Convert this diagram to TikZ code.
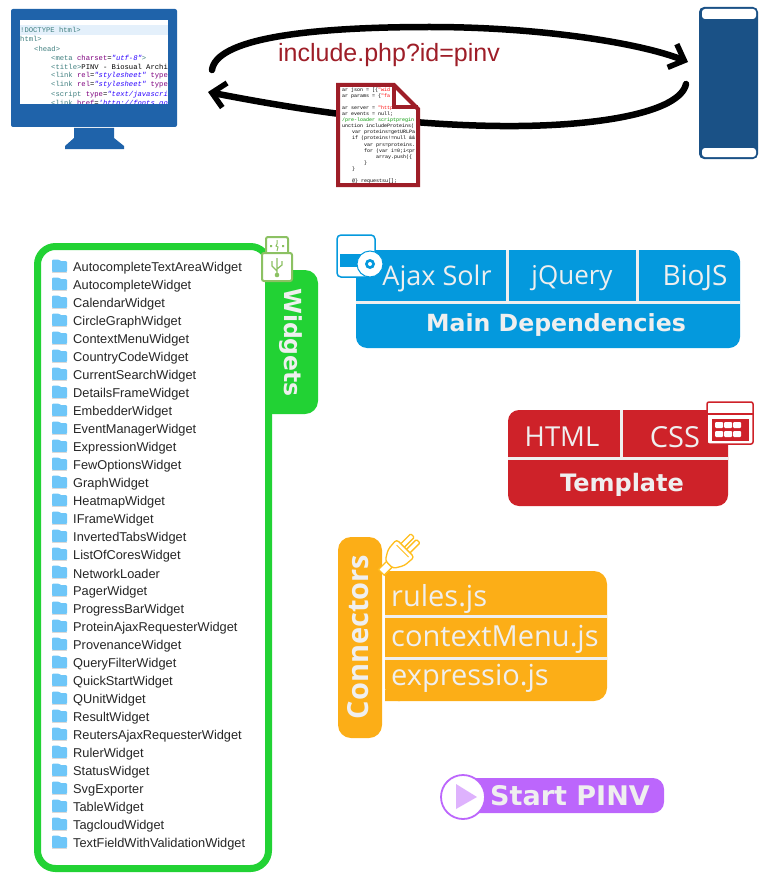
\documentclass[tikz,border=0pt]{standalone}
\usepackage{fontspec}
\setmainfont{Liberation Sans}
\newfontfamily\thinfont{Open Sans}
\newfontfamily\boldfont{DejaVu Sans}
\newfontfamily\codefont{Liberation Mono}
\usetikzlibrary{arrows.meta}
\definecolor{cblue}{HTML}{0499DD}
\definecolor{cred}{HTML}{CE2229}
\definecolor{corange}{HTML}{FCAE17}
\definecolor{cgreen}{HTML}{22D234}
\definecolor{cpurple}{HTML}{BC66FC}
\definecolor{cmon}{HTML}{1F63AA}
\definecolor{cphone}{HTML}{1A5186}
\definecolor{cdoc}{HTML}{9E1E28}
\definecolor{cwhite}{HTML}{EFEFEF}
\definecolor{cfolder}{HTML}{6EC6F8}
\definecolor{cusb}{HTML}{8CC163}
\definecolor{cteal}{HTML}{3F7F7F}
\definecolor{cpurp}{HTML}{7F007F}
\definecolor{cstr}{HTML}{2A00FF}
\definecolor{chigh}{HTML}{E4F0FB}
\definecolor{cplug}{HTML}{FFBE1E}
\tikzset{
  x=1pt,y=-1pt,
  flow/.style={line width=6.5pt,line cap=round,-{Straight Barb[length=13pt,width=25pt,line width=5.5pt]}},
  label/.style={inner sep=0pt,text=cwhite,font=\thinfont\fontsize{#1}{#1}\selectfont},
  blabel/.style={inner sep=0pt,text=cwhite,font=\boldfont\bfseries\fontsize{#1}{#1}\selectfont},
  widget/.style={inner sep=0pt,anchor=west,font=\fontsize{12.8}{13}\selectfont,text=black!85},
  code/.style={inner sep=0pt,anchor=west,font=\codefont\fontsize{7.2}{8}\selectfont},
  dcode/.style={inner sep=0pt,anchor=west,font=\codefont\fontsize{5}{6}\selectfont},
  divider/.style={cwhite,line width=3pt},
}
\begin{document}
\begin{tikzpicture}
\useasboundingbox (0,0) rectangle (768,880);
% monitor
\fill[cmon,rounded corners=2pt] (11,9) rectangle (177,127);
\fill[cmon] (74,128) -- (114,128) -- (114,138) -- (124,146) -- (124,149) -- (65,149) -- (65,146) -- (74,138) -- cycle;
\fill[white] (20,20) rectangle (168,104);
\begin{scope}
\clip (20,20) rectangle (168,104);
\fill[chigh] (20,25) rectangle (168,35);
\node[code,text=cteal] (m1) at (20,30) {!DOCTYPE html>};
\node[code,text=cteal] (m2) at (20,39) {html>};
\node[code,text=cteal] (m3) at (34,48.5) {<head>};
\node[code] (m4) at (51,57.5) {\textcolor{cteal}{<meta} \textcolor{cpurp}{charset}=\textcolor{cstr}{\itshape "utf-8"}\textcolor{cteal}{>}};
\node[code] (m5) at (51,66.5) {\textcolor{cteal}{<title>}PINV - Biosual Archi};
\node[code] (m6) at (51,76) {\textcolor{cteal}{<link} \textcolor{cpurp}{rel}=\textcolor{cstr}{\itshape "stylesheet"} \textcolor{cpurp}{type}};
\node[code] (m7) at (51,85) {\textcolor{cteal}{<link} \textcolor{cpurp}{rel}=\textcolor{cstr}{\itshape "stylesheet"} \textcolor{cpurp}{type}};
\node[code] (m8) at (51,94.5) {\textcolor{cteal}{<script} \textcolor{cpurp}{type}=\textcolor{cstr}{\itshape "text/javascri}};
\node[code] (m9) at (51,103.5) {\textcolor{cteal}{<link} \textcolor{cpurp}{href}=\textcolor{cstr}{\itshape 'http://fonts.go}};
\end{scope}
% phone
\fill[cphone,rounded corners=5pt] (699,7) rectangle (758,159);
\fill[white,rounded corners=3pt] (702,9) -- (756,9) -- (756,19) -- (702,19) -- cycle;
\fill[white,rounded corners=3pt] (702,148) -- (756,148) -- (756,157) -- (702,157) -- cycle;
\coordinate (pa) at (688,62);
\coordinate (pb) at (686,84);
\coordinate (ma) at (212,70);
\coordinate (mb) at (208,92);
% flows
\draw[flow] (ma) .. controls (216,40) and (300,27) .. (430,27) .. controls (540,27) and (640,43) .. (pa);
\draw[flow] (pb) .. controls (680,112) and (600,127) .. (500,126) .. controls (400,125) and (300,110) .. (mb);
\node[inner sep=0pt,text=cdoc,font=\fontsize{25}{25}\selectfont] (inc) at (389,55) {include.php?id=pinv};
% document
\fill[white] (338,85) -- (394,85) -- (418,109) -- (418,185) -- (338,185) -- cycle;
\begin{scope}
\clip (342,87) rectangle (416,182);
\node[dcode,text=black] (d1) at (342,90) {ar json = [\{\textcolor{red}{"wid}};
\node[dcode,text=black] (d2) at (342,96) {ar params = \{\textcolor{red}{"fa}};
\node[dcode,text=black] (d3) at (342,108.5) {ar server = \textcolor{red}{"http://}};
\node[dcode,text=black] (d4) at (342,114.5) {ar events = null;};
\node[dcode,text=green!60!black] (d5) at (342,120.5) {/pre-loader scriptpregin};
\node[dcode,text=black] (d6) at (342,126.5) {unction includeProteins(};
\node[dcode,text=black] (d7) at (352,132.5) {var proteins=getURLPa};
\node[dcode,text=black] (d8) at (352,138.5) {if (proteins!=null \&\&};
\node[dcode,text=black] (d9) at (364,145) {var prs=proteins.};
\node[dcode,text=black] (d10) at (364,151) {for (var i=0;i<pr};
\node[dcode,text=black] (d11) at (376,157) {array.push(\{};
\node[dcode,text=black] (d12) at (364,163) {\}};
\node[dcode,text=black] (d13) at (352,169) {\}};
\node[dcode,text=black] (d14) at (352,181) {@\} requestsu[];};
\end{scope}
\draw[cdoc,line width=4pt,miter limit=2] (338,85) -- (394,85) -- (418,109) -- (418,185) -- (338,185) -- cycle;
\draw[cdoc,line width=4pt] (394,85) -- (394,107) -- (418,107);
% widgets panel
\fill[cgreen,rounded corners=13pt] (250,270) -- (318,270) -- (318,414) -- (250,414) -- cycle;
\fill[white,draw=cgreen,line width=7pt,rounded corners=18pt] (37.5,246.5) rectangle (268.5,868.5);
\node[inner sep=0pt,rotate=-90,text=cwhite,font=\boldfont\bfseries\fontsize{23.5}{23}\selectfont] (wtab) at (291,342.5) {Widgets};
\foreach \i/\t in {0/AutocompleteTextAreaWidget,1/AutocompleteWidget,2/CalendarWidget,3/CircleGraphWidget,4/ContextMenuWidget,5/CountryCodeWidget,6/CurrentSearchWidget,7/DetailsFrameWidget,8/EmbedderWidget,9/EventManagerWidget,10/ExpressionWidget,11/FewOptionsWidget,12/GraphWidget,13/HeatmapWidget,14/IFrameWidget,15/InvertedTabsWidget,16/ListOfCoresWidget,17/NetworkLoader,18/PagerWidget,19/ProgressBarWidget,20/ProteinAjaxRequesterWidget,21/ProvenanceWidget,22/QueryFilterWidget,23/QuickStartWidget,24/QUnitWidget,25/ResultWidget,26/ReutersAjaxRequesterWidget,27/RulerWidget,28/StatusWidget,29/SvgExporter,30/TableWidget,31/TagcloudWidget,32/TextFieldWithValidationWidget}{
  \pgfmathsetmacro{\yy}{267+18*\i}
  \fill[cfolder,rounded corners=1pt] (52,\yy-7.5) -- (59,\yy-7.5) -- (60,\yy-6) -- (67,\yy-6) -- (67,\yy+5) -- (52,\yy+5) -- cycle;
  \fill[black!15] (52,\yy+5) rectangle (67,\yy+6);
  \node[widget] (w\i) at (73,\yy+1) {\t};
}
% usb icon
\draw[cusb,fill=white,line width=2pt,rounded corners=2pt] (266,237) rectangle (288,254);
\draw[cusb,fill=white,line width=2pt,rounded corners=2pt] (262,253) rectangle (292,281);
\fill[cusb] (270,245) rectangle (272,247) (282,245) rectangle (284,247);
\draw[cusb,line width=1pt] (277,240) -- (277,244) -- (276,246) -- (278,247) -- (277,251);
\draw[cusb,line width=1.2pt] (277,258) -- (277,275) (272,261) -- (272,266) -- (277,271) (282,261) -- (282,265) -- (277,269);
\fill[cusb] (277,275) circle (2.3pt);
% main dependencies
\fill[cblue,rounded corners=11pt] (356,262) -- (356,348) -- (740,348) -- (740,250) -- (356,250) -- cycle;
\fill[cblue] (356,250) rectangle (380,270);
\draw[divider] (356,302) -- (740,302) (507,250) -- (507,302) (637,250) -- (637,302);
\node[label=27] (dep1) at (437,278) {Ajax Solr};
\node[label=26] (dep2) at (572,278) {jQuery};
\node[label=28] (dep3) at (695,278) {BioJS};
\node[blabel=23.6] (dep4) at (556,325) {Main Dependencies};
\draw[cblue,fill=white,line width=1.5pt,rounded corners=4pt] (337,235) rectangle (375,277);
\fill[cblue] (340,254) rectangle (368,267);
\fill[white,draw=cblue,line width=1pt] (370,264) circle (13pt);
\fill[cblue] (370,264) circle (5pt);
\fill[white] (370,264) circle (2pt);
% template
\fill[cred,rounded corners=11pt] (508,410) rectangle (728,506);
\draw[divider] (508,458) -- (728,458) (621,410) -- (621,458);
\node[label=27.5] (t1) at (562,437) {HTML};
\node[label=29] (t2) at (675,437) {CSS};
\node[blabel=24] (t3) at (622,485) {Template};
\draw[cred,fill=white,line width=1.5pt,rounded corners=2pt] (707,402) rectangle (753,444);
\draw[cred,line width=1.5pt] (707,414) -- (753,414);
\fill[cred] (712,419) rectangle (749,441);
\foreach \cx in {715,724,733}{\foreach \cy in {422,431}{
  \fill[white,rounded corners=1pt] (\cx,\cy) rectangle ++(8,6);
}}
% connectors
\fill[corange,rounded corners=13pt] (338,537) rectangle (382,738);
\fill[corange,rounded corners=13pt] (385,571) -- (607,571) -- (607,701) -- (385,701) -- cycle;
\fill[corange] (385,571) rectangle (400,585) (385,690) rectangle (400,701);
\draw[divider] (385,616) -- (607,616) (385,658) -- (607,658);
\node[inner sep=0pt,rotate=90,text=cwhite,font=\thinfont\bfseries\fontsize{29}{29}\selectfont] (ctab) at (358,637) {Connectors};
\node[label=29,anchor=west] (c1) at (391,599) {rules.js};
\node[label=29,anchor=west] (c2) at (391,639) {contextMenu.js};
\node[label=29,anchor=west] (c3) at (391,678) {expressio.js};
% plug icon
\begin{scope}[shift={(398,555)},rotate=-45]
\draw[cplug,fill=white,line width=1.3pt,rounded corners=1pt] (-6,-24) rectangle (-1,-9) (2,-24) rectangle (7,-9);
\draw[cplug,fill=white,line width=1.3pt] (-3.5,11) rectangle (4.5,24);
\draw[cplug,fill=white,line width=1.3pt,rounded corners=3pt] (-12,-10) -- (13,-10) -- (12,3) -- (6,13) -- (-5,13) -- (-11,3) -- cycle;
\draw[cplug,line width=0.8pt] (-8,-6) -- (9,-6);
\end{scope}
% start
\fill[cpurple,rounded corners=11pt] (450,778) rectangle (664,813);
\draw[cpurple,fill=white,line width=1.8pt] (463,797) circle (22pt);
\fill[cpurple!50] (456,784) -- (477,797) -- (456,809) -- cycle;
\node[inner sep=0pt,text=cwhite,font=\boldfont\bfseries\fontsize{27}{27}\selectfont] (st) at (570,796) {Start PINV};
\end{tikzpicture}
\end{document}
